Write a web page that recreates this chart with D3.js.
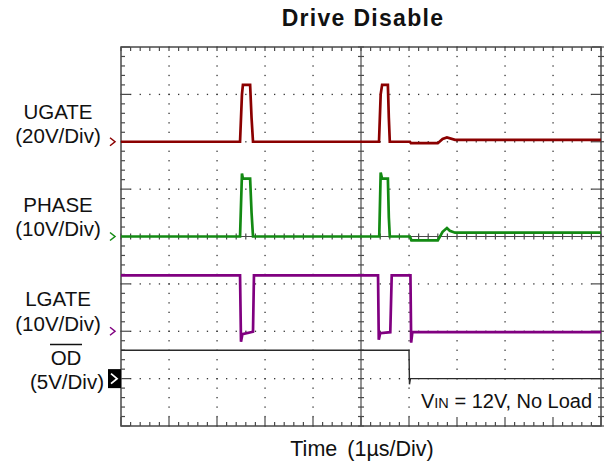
<!DOCTYPE html>
<html><head><meta charset="utf-8">
<script src="https://cdn.jsdelivr.net/npm/d3@7"></script>
<style>
html,body{margin:0;padding:0;background:#fff;}
svg{display:block;font-family:"Liberation Sans",Arial,sans-serif;}
</style></head>
<body>
<svg id="chart" width="607" height="468"></svg>
<script>
// ---- data ----
const titleText = "Drive Disable";
const xLabelWord = "Time";
const xLabelUnit = "(1\u00B5s/Div)";
const channelNames = ["UGATE", "PHASE", "LGATE", "OD"];
const channelScaleLabels = ["(20V/Div)", "(10V/Div)", "(10V/Div)", "(5V/Div)"];
const voltsPerDiv = [20, 10, 10, 5];
const groundDiv = [2, 0, -2, -3];
const channelColors = ["#8b0000", "#138a13", "#800080", "#2a2a2a"];
// waveform breakpoints: [time (µs), volts]
const ugatePts = [[-5,0],[-2.52,0],[-2.48,20],[-2.46,24],[-2.31,24],[-2.28,10],[-2.25,0],
  [0.375,0],[0.41,20],[0.44,24],[0.56,24],[0.58,10],[0.60,0],
  [1.02,0],[1.04,-0.6],[1.60,-0.6],[1.70,1.2],[1.79,1.8],[1.96,0.8],[5,0.8]];
const phasePts = [[-5,0],[-2.52,0],[-2.48,13.3],[-2.46,12.2],[-2.31,12.2],[-2.28,5],[-2.25,0],
  [0.38,0],[0.41,13.5],[0.44,12.2],[0.56,12.2],[0.58,4],[0.60,0],
  [1.02,0],[1.05,-0.8],[1.60,-0.8],[1.70,1.0],[1.79,1.8],[1.85,1.2],[1.96,0.8],[5,0.8]];
const lgatePts = [[-5,11.8],[-2.52,11.8],[-2.50,-2.2],[-2.47,-0.6],[-2.25,-0.1],[-2.23,11.8],
  [0.355,11.8],[0.37,-1.8],[0.40,-0.4],[0.61,-0.2],[0.64,11.8],
  [1.03,11.8],[1.045,-2.4],[1.07,-0.2],[5,-0.2]];
const odPts = [[-5,3],[1.0,3],[1.01,-0.6],[1.03,0],[5,0]];
const tracePts = [ugatePts, phasePts, lgatePts, odPts];
const noteMain = "V", noteSub = "IN", noteRest = " = 12V, No Load";

// ---- layout ----
const svg = d3.select("#chart");
const L = 121, R = 601, T = 47, B = 426;
const x = d3.scaleLinear().domain([-5, 5]).range([L, R]);
const y = d3.scaleLinear().domain([-4, 4]).range([B, T]);
const gridColor = "#4a4a4a";

const g = svg.append("g");
const majorX = d3.range(-4, 5, 1), majorY = d3.range(-3, 4, 1);
const minorX = d3.range(-5, 5.001, 0.2), minorY = d3.range(-4, 4.001, 0.2);

// dotted grid
majorX.filter(d => d !== 0).forEach(mx => {
  g.selectAll(null).data(minorY).enter().append("rect")
    .attr("x", x(mx) - 0.6).attr("y", d => y(d) - 0.6).attr("width", 1.3).attr("height", 1.3)
    .attr("fill", "#333");
});
majorY.filter(d => d !== 0).forEach(my => {
  g.selectAll(null).data(minorX).enter().append("rect")
    .attr("x", d => x(d) - 0.6).attr("y", y(my) - 0.6).attr("width", 1.3).attr("height", 1.3)
    .attr("fill", "#333");
});

// white box behind note
g.append("rect").attr("x", 414).attr("y", 382).attr("width", 184).attr("height", 41).attr("fill", "#fff");

// center crosshair with ticks
g.append("line").attr("x1", x(0)).attr("x2", x(0)).attr("y1", T).attr("y2", B).attr("stroke", gridColor).attr("stroke-width", 1.2);
g.append("line").attr("x1", L).attr("x2", R).attr("y1", y(0)).attr("y2", y(0)).attr("stroke", gridColor).attr("stroke-width", 1.2);
g.selectAll(null).data(minorY).enter().append("line")
  .attr("x1", x(0) - 3).attr("x2", x(0) + 3).attr("y1", d => y(d)).attr("y2", d => y(d))
  .attr("stroke", gridColor).attr("stroke-width", 1.2);
g.selectAll(null).data(minorX).enter().append("line")
  .attr("y1", y(0) - 3).attr("y2", y(0) + 3).attr("x1", d => x(d)).attr("x2", d => x(d))
  .attr("stroke", gridColor).attr("stroke-width", 1.2);

// border ticks
const isMajor = d => Math.abs(d - Math.round(d)) < 1e-6;
g.selectAll(null).data(minorX).enter().append("line")
  .attr("x1", d => x(d)).attr("x2", d => x(d)).attr("y1", T).attr("y2", T + 4)
  .attr("stroke", gridColor).attr("stroke-width", 1.2);
g.selectAll(null).data(minorX).enter().append("line")
  .attr("x1", d => x(d)).attr("x2", d => x(d)).attr("y1", B).attr("y2", d => B - (isMajor(d) ? 9 : 4))
  .attr("stroke", gridColor).attr("stroke-width", 1.2);
g.selectAll(null).data(minorY).enter().append("line")
  .attr("y1", d => y(d)).attr("y2", d => y(d)).attr("x1", L).attr("x2", d => L + (isMajor(d) ? 9 : 4))
  .attr("stroke", gridColor).attr("stroke-width", 1.2);
g.selectAll(null).data(minorY).enter().append("line")
  .attr("y1", d => y(d)).attr("y2", d => y(d)).attr("x1", d => R - (isMajor(d) ? 9 : 3)).attr("x2", R + 3)
  .attr("stroke", gridColor).attr("stroke-width", 1.2);

// border
g.append("rect").attr("x", L).attr("y", T).attr("width", R - L).attr("height", B - T)
  .attr("fill", "none").attr("stroke", gridColor).attr("stroke-width", 1.5);

// traces
tracePts.forEach((pts, i) => {
  const line = d3.line()
    .x(d => x(d[0]))
    .y(d => y(groundDiv[i] + d[1] / voltsPerDiv[i]));
  svg.append("path").datum(pts).attr("d", line)
    .attr("fill", "none").attr("stroke", channelColors[i])
    .attr("stroke-width", i === 3 ? 1.4 : 2.7).attr("stroke-linejoin", "miter");
});

// title
svg.append("text").attr("x", 363).attr("y", 26).attr("text-anchor", "middle")
  .attr("font-size", 23).attr("font-weight", "bold").attr("letter-spacing", 1.3)
  .attr("fill", "#111").text(titleText);

// x label
const xl = svg.append("text").attr("x", 362).attr("y", 456).attr("text-anchor", "middle")
  .attr("font-size", 21.5).attr("fill", "#111");
xl.append("tspan").text(xLabelWord);
xl.append("tspan").attr("dx", 10).text(xLabelUnit);

// channel labels
const nameY = [119, 212, 306, 365], scaleY = [143, 236, 331, 389], cx = [58, 58, 58, 67];
channelNames.forEach((n, i) => {
  svg.append("text").attr("x", i === 3 ? 66 : cx[i]).attr("y", nameY[i]).attr("text-anchor", "middle")
    .attr("font-size", 20.5).attr("fill", "#111").text(n);
  svg.append("text").attr("x", cx[i]).attr("y", scaleY[i]).attr("text-anchor", "middle")
    .attr("font-size", 20.5).attr("fill", "#111").text(channelScaleLabels[i]);
  const gy = y(groundDiv[i]);
  if (i < 3) {
    svg.append("path").attr("d", `M110,${gy - 4} L115,${gy} L110,${gy + 4}`)
      .attr("fill", "none").attr("stroke", channelColors[i]).attr("stroke-width", 1.5);
  } else {
    svg.append("rect").attr("x", 108).attr("y", gy - 9.5).attr("width", 13).attr("height", 19).attr("fill", "#000");
    svg.append("path").attr("d", `M111,${gy - 5} L117,${gy} L111,${gy + 5}`)
      .attr("fill", "none").attr("stroke", "#fff").attr("stroke-width", 1.8);
  }
});
// overline for OD
svg.append("line").attr("x1", 50).attr("x2", 82).attr("y1", 344.5).attr("y2", 344.5)
  .attr("stroke", "#111").attr("stroke-width", 1.5);

// note
const note = svg.append("text").attr("x", 421).attr("y", 408).attr("font-size", 20).attr("fill", "#111");
note.append("tspan").text(noteMain);
note.append("tspan").attr("font-size", 14.5).text(noteSub);
note.append("tspan").text(noteRest);
</script>
</body></html>
